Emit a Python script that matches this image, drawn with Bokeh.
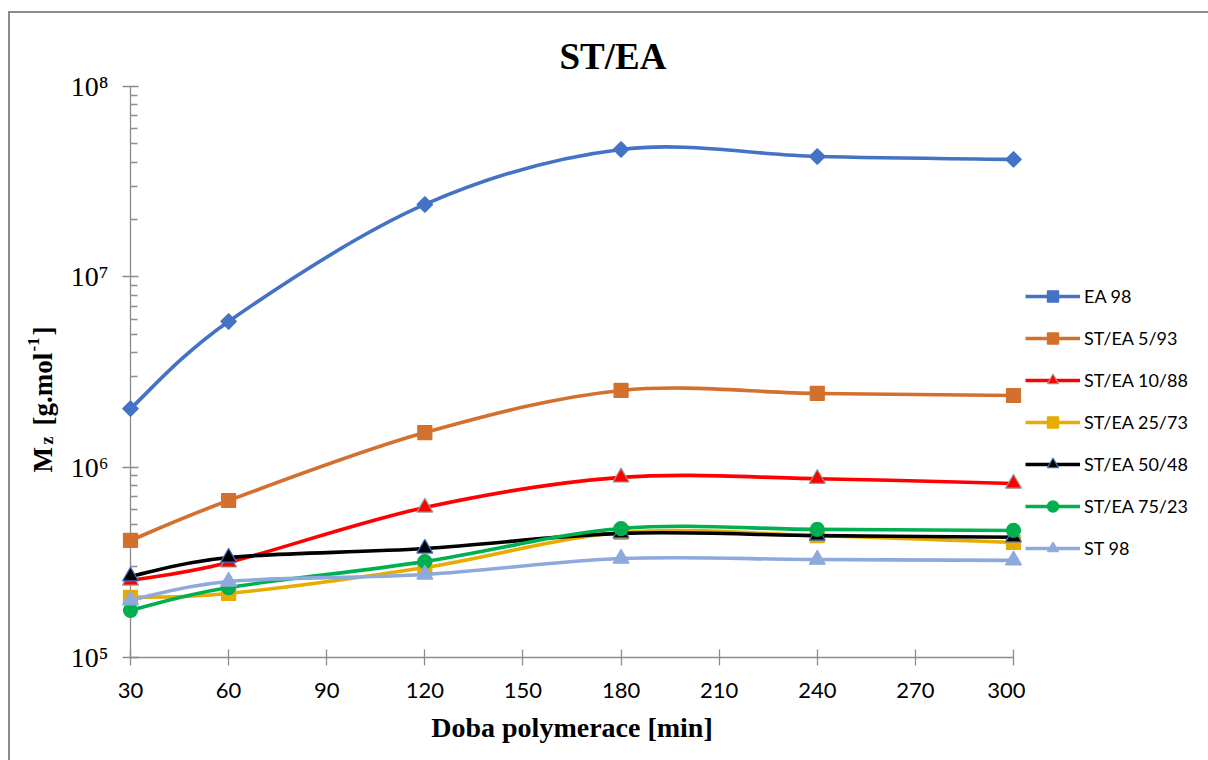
import numpy as np
from bokeh.plotting import figure
from bokeh.layouts import row
from bokeh.models import (Range1d, FixedTicker, CustomJSTickFormatter, Legend,
                          LegendItem, ColumnDataSource)
from bokeh.core.properties import value
from bokeh.embed import file_html
from bokeh.resources import INLINE

# ---------------- data ----------------
times = [30, 60, 120, 180, 240, 300]
x_ticks = [30, 60, 90, 120, 150, 180, 210, 240, 270, 300]
y_ticks = [1e5, 1e6, 1e7, 1e8]

ea_98 = [2.03e6, 5.83e6, 2.40e7, 4.67e7, 4.29e7, 4.14e7]
st_ea_5_93 = [4.12e5, 6.68e5, 1.52e6, 2.53e6, 2.44e6, 2.38e6]
st_ea_10_88 = [2.54e5, 3.16e5, 6.14e5, 8.84e5, 8.70e5, 8.20e5]
st_ea_25_73 = [2.07e5, 2.17e5, 2.97e5, 4.54e5, 4.37e5, 4.02e5]
st_ea_50_48 = [2.67e5, 3.35e5, 3.74e5, 4.49e5, 4.37e5, 4.28e5]
st_ea_75_23 = [1.77e5, 2.33e5, 3.19e5, 4.76e5, 4.71e5, 4.65e5]
st_98 = [2.00e5, 2.51e5, 2.73e5, 3.31e5, 3.27e5, 3.24e5]

series_names = ["EA 98", "ST/EA 5/93", "ST/EA 10/88", "ST/EA 25/73",
                "ST/EA 50/48", "ST/EA 75/23", "ST 98"]
series_values = [ea_98, st_ea_5_93, st_ea_10_88, st_ea_25_73,
                 st_ea_50_48, st_ea_75_23, st_98]

# styles
line_colors = ["#4472C4", "#D4702E", "#FF0000", "#E6AC00", "#000000", "#00B050", "#8EA9DB"]
markers = ["square", "square", "triangle", "square", "triangle", "circle", "triangle"]
marker_angles = [np.pi / 4, 0, 0, 0, 0, 0, 0]
marker_sizes = [11, 14, 16, 14, 16, 14, 16]
marker_lines = ["#4472C4", "#D4702E", "#999999", "#E6AC00", "#4472C4", "#00B050", "#8EA9DB"]


def smooth_segments(xs, ys):
    """Bezier control points (Excel-like smoothing) computed in (x, log10 y) space."""
    lx = np.array(xs, float)
    ly = np.log10(np.array(ys, float))
    n = len(lx)
    d = {k: [] for k in ["x0", "y0", "x1", "y1", "cx0", "cy0", "cx1", "cy1"]}
    for i in range(n - 1):
        ip = i - 1 if i > 0 else i
        inx = i + 2 if i + 2 < n else i + 1
        d["x0"].append(lx[i]); d["y0"].append(10 ** ly[i])
        d["x1"].append(lx[i + 1]); d["y1"].append(10 ** ly[i + 1])
        d["cx0"].append(lx[i] + (lx[i + 1] - lx[ip]) / 6)
        d["cy0"].append(10 ** (ly[i] + (ly[i + 1] - ly[ip]) / 6))
        d["cx1"].append(lx[i + 1] - (lx[inx] - lx[i]) / 6)
        d["cy1"].append(10 ** (ly[i + 1] - (ly[inx] - ly[i]) / 6))
    return d


serif = "Liberation Serif"

# ---------------- main chart ----------------
p = figure(width=1025, height=760, x_range=Range1d(30, 300), y_range=Range1d(1e5, 1e8),
           y_axis_type="log", output_backend="svg", toolbar_location=None,
           min_border_left=130, min_border_right=12, min_border_top=86, min_border_bottom=103)
p.xgrid.visible = False
p.ygrid.visible = False
p.outline_line_color = None
p.background_fill_color = "white"
p.border_fill_color = "white"

# title
p.title.text = "ST/EA"
p.title.align = "left"
p.title.offset = 429
p.title.standoff = 20
p.title.text_font = serif
p.title.text_font_style = "bold"
p.title.text_font_size = "37px"
p.title.text_color = "black"

axis_col = "#8C8C8C"
# x axis
p.xaxis.ticker = FixedTicker(ticks=x_ticks)
p.xaxis.axis_line_color = axis_col
p.xaxis.axis_line_width = 1.3
p.xaxis.major_tick_line_color = axis_col
p.xaxis.major_tick_line_width = 1.3
p.xaxis.major_tick_in = 8
p.xaxis.major_tick_out = 8
p.xaxis.minor_tick_line_color = None
p.xaxis.major_label_text_font = "Lato"
p.xaxis.major_label_text_font_size = "22px"
p.xaxis.major_label_text_color = "black"
p.xaxis.major_label_standoff = 17
p.xaxis.axis_label = "Doba polymerace [min]"
p.xaxis.axis_label_text_font = serif
p.xaxis.axis_label_text_font_style = "bold"
p.xaxis.axis_label_text_font_size = "28px"
p.xaxis.axis_label_text_color = "black"
p.xaxis.axis_label_standoff = 11

# y axis
p.yaxis.ticker = FixedTicker(ticks=y_ticks,
                             minor_ticks=[m * 10 ** e for e in range(5, 8) for m in range(2, 10)])
p.yaxis.formatter = CustomJSTickFormatter(code="""
const sup = {"0":"\u2070","1":"\u00b9","2":"\u00b2","3":"\u00b3","4":"\u2074","5":"\u2075",
             "6":"\u2076","7":"\u2077","8":"\u2078","9":"\u2079","-":"\u207b"};
const e = Math.round(Math.log10(tick));
return "10" + String(e).split("").map(c => sup[c]).join("");
""")
p.yaxis.axis_line_color = axis_col
p.yaxis.axis_line_width = 1.3
p.yaxis.major_tick_line_color = axis_col
p.yaxis.major_tick_line_width = 1.3
p.yaxis.major_tick_in = 8
p.yaxis.major_tick_out = 8
p.yaxis.minor_tick_line_color = axis_col
p.yaxis.minor_tick_line_width = 1.3
p.yaxis.minor_tick_in = 7
p.yaxis.minor_tick_out = 0
p.yaxis.major_label_text_font = serif
p.yaxis.major_label_text_font_size = "28px"
p.yaxis.major_label_text_color = "black"
p.yaxis.major_label_standoff = 14
p.yaxis.major_label_text_baseline = "top"

# ---------------- legend panel (separate figure to the right) ----------------
lg = figure(width=183, height=760, x_range=Range1d(0, 1), y_range=Range1d(0, 1),
            output_backend="svg", toolbar_location=None,
            x_axis_location=None, y_axis_location=None, min_border=0)
lg.xgrid.visible = False
lg.ygrid.visible = False
lg.outline_line_color = None
lg.background_fill_color = "white"
lg.border_fill_color = "white"

# ---------------- series ----------------
items = []
for name, vals, lc, mk, ang, ms, ml in zip(series_names, series_values, line_colors, markers,
                                           marker_angles, marker_sizes, marker_lines):
    seg = ColumnDataSource(smooth_segments(times, vals))
    p.bezier(x0="x0", y0="y0", x1="x1", y1="y1", cx0="cx0", cy0="cy0",
             cx1="cx1", cy1="cy1", source=seg, line_color=lc, line_width=3.6, level="overlay")
    pts = ColumnDataSource(dict(x=times, y=vals))
    p.scatter(x="x", y="y", source=pts, marker=mk, size=ms, angle=ang,
              fill_color=lc, line_color=ml, line_width=1.2, level="overlay")
    # legend swatches: same series in the legend panel (its data lie outside that view)
    l_line = lg.line(x="x", y="y", source=pts, line_color=lc, line_width=3.6)
    l_pts = lg.scatter(x="x", y="y", source=pts, marker=mk, size=ms, angle=ang,
                       fill_color=lc, line_color=ml, line_width=1.2)
    items.append(LegendItem(label=name, renderers=[l_line, l_pts]))

legend = Legend(items=items, location=(0, 95), orientation="vertical",
                glyph_width=55, glyph_height=28, label_height=20, spacing=14,
                label_standoff=4, padding=0, margin=0,
                border_line_color=None, background_fill_alpha=0,
                label_text_font="Lato", label_text_font_size="18px", label_text_color="black")
lg.add_layout(legend)

# ---------------- y axis title: M_z [g.mol^-1] (pieces, rotated) ----------------
ylab_pieces = [
    ("M", -88, -185, "27px"),
    ("z", -84, -213, "18px"),
    ("[g.mol", -88, -232, "27px"),
    ("-1", -97, -306, "17px"),
    ("]", -88, -322, "27px"),
]
for t, xo, yo, fs in ylab_pieces:
    p.text(x=[times[0]], y=[y_ticks[0]], text=[t], angle=np.pi / 2, x_offset=xo, y_offset=yo,
           text_align="left", text_baseline="alphabetic", text_font=value(serif),
           text_font_style="bold", text_font_size=fs, text_color="black", level="overlay")

layout = row(p, lg, spacing=0)
html = file_html(layout, INLINE)
frame_div = ('<div style="position:fixed;left:8px;top:11px;right:-6px;bottom:-6px;'
             'border-left:2px solid #8C8C8C;border-top:2px solid #8C8C8C;'
             'pointer-events:none;z-index:10;"></div>')
html = html.replace("</body>", frame_div + "</body>")
open("out.html", "w").write(html)
